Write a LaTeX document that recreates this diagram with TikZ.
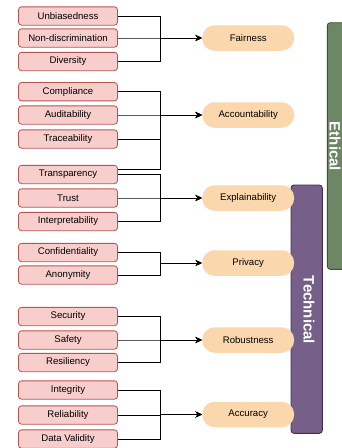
\documentclass[tikz,border=0pt]{standalone}
\usepackage{fontspec}
\setmainfont{Liberation Sans}
\usetikzlibrary{arrows.meta}
\definecolor{boxfill}{HTML}{F8CECC}
\definecolor{boxline}{HTML}{B85450}
\definecolor{goalfill}{HTML}{FAD7AC}
\definecolor{ethfill}{HTML}{6D8764}
\definecolor{ethline}{HTML}{3A5431}
\definecolor{techfill}{HTML}{76608A}
\definecolor{techline}{HTML}{432D57}
\begin{document}
\begin{tikzpicture}[x=1pt,y=-1pt,
  attr/.style={draw=boxline,fill=boxfill,line width=0.8pt,rounded corners=3pt,
    minimum width=99pt,minimum height=18.3pt,inner sep=0pt,
    font=\fontsize{9.6}{11}\selectfont},
  goal/.style={fill=goalfill,rounded corners=12.5pt,minimum width=92pt,
    minimum height=25.5pt,inner sep=0pt,font=\fontsize{9.6}{11}\selectfont},
  link/.style={draw=black,line width=0.9pt},
  arr/.style={link,-{Stealth[length=6.5pt,width=6pt]}},
  bartext/.style={rotate=-90,anchor=base,text=white,
    font=\bfseries\fontsize{15}{18}\selectfont}]
\useasboundingbox (0,0) rectangle (342,448);
\clip (0,0) rectangle (342,448);
% side bars
\draw[draw=ethline,fill=ethfill,line width=0.9pt,rounded corners=3pt]
  (327.3,22.7) rectangle (362,269.3);
\node[bartext] (eth) at (329.5,146.5) {Ethical};
\draw[draw=techline,fill=techfill,line width=0.9pt,rounded corners=3pt]
  (291,185) rectangle (322.3,433.3);
\node[bartext] (tech) at (303.5,310) {Technical};
% goals
\node[goal] (fair) at (248.2,38) {Fairness};
\node[goal] (acc) at (248.2,115) {Accountability};
\node[goal] (expl) at (248.2,198) {Explainability};
\node[goal] (priv) at (248.2,263) {Privacy};
\node[goal] (rob) at (248.2,340) {Robustness};
\node[goal] (accu) at (248.2,414.5) {Accuracy};
% attributes
\node[attr] (unb) at (68,16) {Unbiasedness};
\node[attr] (nond) at (68,38) {Non-discrimination};
\node[attr] (div) at (68,61.5) {Diversity};
\node[attr] (comp) at (68,91.7) {Compliance};
\node[attr] (aud) at (68,115) {Auditability};
\node[attr] (trace) at (68,139) {Traceability};
\node[attr] (trans) at (68,174.5) {Transparency};
\node[attr] (trust) at (68,198) {Trust};
\node[attr] (interp) at (68,221.5) {Interpretability};
\node[attr] (conf) at (68,252.5) {Confidentiality};
\node[attr] (anon) at (68,275) {Anonymity};
\node[attr] (sec) at (68,316.5) {Security};
\node[attr] (safe) at (68,340) {Safety};
\node[attr] (res) at (68,362.5) {Resiliency};
\node[attr] (integ) at (68,390) {Integrity};
\node[attr] (rel) at (68,415) {Reliability};
\node[attr] (dval) at (68,439) {Data Validity};
\coordinate (spine) at (160,0);
% connectors
\foreach \a/\g in {unb/fair,nond/fair,div/fair,
  comp/acc,aud/acc,trace/acc,
  trans/expl,trust/expl,interp/expl,
  conf/priv,anon/priv,
  sec/rob,safe/rob,res/rob,
  integ/accu,rel/accu,dval/accu}{
  \draw[arr] (\a.east) -- (\a.east -| spine) |- (\g.west);
}
\coordinate (transup) at ([yshift=5pt]trans.east);
\draw[arr] (transup) -- (transup -| spine) |- (acc.west);
\end{tikzpicture}
\end{document}
